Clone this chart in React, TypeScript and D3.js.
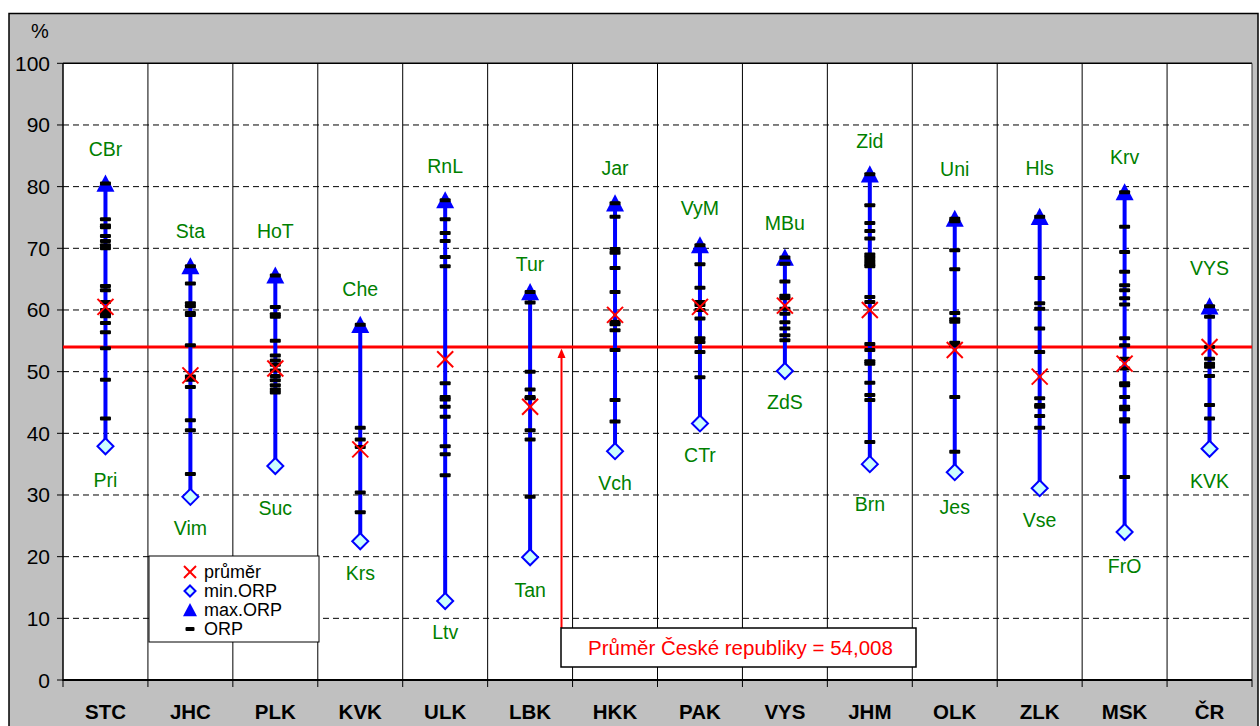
import React from "react";
import * as d3 from "d3";

const categories = ["STC","JHC","PLK","KVK","ULK","LBK","HKK","PAK","VYS","JHM","OLK","ZLK","MSK","ČR"];
const maxVals = [80.5,67.1,65.6,57.6,77.8,62.9,77.3,70.5,68.5,82.0,74.8,75.1,79.1,60.6];
const minVals = [37.9,29.7,34.7,22.5,12.8,19.9,37.1,41.6,50.1,35.0,33.7,31.1,24.0,37.5];
const means = [60.5,49.4,50.5,37.4,52.0,44.3,59.2,60.5,60.7,60.0,53.5,49.2,51.3,54.0];
const maxNames = ["CBr","Sta","HoT","Che","RnL","Tur","Jar","VyM","MBu","Zid","Uni","Hls","Krv","VYS"];
const minNames = ["Pri","Vim","Suc","Krs","Ltv","Tan","Vch","CTr","ZdS","Brn","Jes","Vse","FrO","KVK"];
const orpValues: number[][] = [
  [74.7,73.7,73.4,72.0,71.2,70.5,70.0,63.9,63.2,61.3,60.0,59.4,59.0,57.9,56.4,53.8,48.7,42.4],
  [64.3,61.1,60.6,59.5,59.2,54.3,49.2,48.7,47.5,42.1,40.5,33.4],
  [60.5,59.3,58.9,55.0,52.6,51.8,51.1,50.2,49.3,48.6,47.8,47.1,46.6],
  [40.9,39.0,37.8,30.4,27.2],
  [74.7,72.5,71.2,68.6,67.1,48.1,45.9,45.5,44.3,42.7,37.9,36.6,33.2],
  [61.2,50.0,47.1,45.9,45.7,40.5,39.0,29.7],
  [75.1,69.9,69.3,66.8,62.9,58.1,57.7,56.7,53.5,45.4,41.9],
  [67.4,63.6,61.3,60.8,60.0,58.6,55.4,54.8,53.2,49.1],
  [67.5,64.6,62.3,61.9,60.2,59.4,58.0,57.0,55.9,55.1],
  [77.0,74.1,72.8,71.6,69.0,68.5,68.0,67.5,67.1,62.1,61.3,54.5,53.5,51.7,51.3,48.2,46.2,45.4,38.6],
  [74.4,69.7,66.6,59.5,58.5,58.1,54.7,54.3,45.9,37.0],
  [65.2,61.1,60.2,57.0,53.2,45.7,44.6,44.3,42.8,40.9],
  [73.5,69.4,66.2,64.0,63.2,61.9,60.9,55.4,54.3,52.1,50.5,48.1,47.8,45.9,44.3,43.9,42.3,41.9,32.9],
  [58.9,54.0,52.1,51.3,50.8,49.3,44.6,42.4],
];
const yTicks = [0,10,20,30,40,50,60,70,80,90,100];
const czAverage = 54.008;
const annotationText = "Průměr České republiky = 54,008";
const legendItems = ["průměr","min.ORP","max.ORP","ORP"];

// label placement (pixel offsets from the marker, layout only)
const maxLabelGap = [35,35,44,36,34,28,35,37,35,33,50,49,35,38];
const minLabelGap = [34,31,42,32,31,33,32,32,31,40,35,32,34,32];

const FONT = "'Liberation Sans', Arial, sans-serif";

export default function App() {
  const left = 63, right = 1252, top = 63.3, bottom = 680;
  const x = d3.scaleBand<string>().domain(categories).range([left, right]).padding(0);
  const y = d3.scaleLinear().domain([0, 100]).range([bottom, top]);
  const bw = x.bandwidth();
  const cx = (i: number) => (x(categories[i]) as number) + bw / 2;
  const avgY = y(czAverage);
  const green = "#008000";
  const triPath = (px: number, py: number, s = 9) => `M${px},${py - s} L${px + s},${py + s * 0.9} L${px - s},${py + s * 0.9} Z`;
  const diaPath = (px: number, py: number, s = 8) => `M${px},${py - s} L${px + s},${py} L${px},${py + s} L${px - s},${py} Z`;
  const xMark = (px: number, py: number, s = 8, key?: any) => (
    <g key={key} stroke="#ff0000" strokeWidth={2}>
      <line x1={px - s} y1={py - s} x2={px + s} y2={py + s} />
      <line x1={px - s} y1={py + s} x2={px + s} y2={py - s} />
    </g>
  );
  const arrowX = 561.5;
  const boxTop = 628, boxBottom = 667, boxLeft = 561, boxRight = 916;

  return (
    <svg width={1260} height={726} style={{ position: "absolute", left: 0, top: 0 }} fontFamily={FONT}>
      <rect x={9} y={13.5} width={1249} height={730} fill="#c0c0c0" stroke="#000" strokeWidth={1.5} />
      <rect x={left} y={top} width={right - left} height={bottom - top} fill="#fff" />
      {yTicks.filter(t => t > 0 && t < 100).map(t => (
        <line key={"g" + t} x1={left} x2={right} y1={y(t)} y2={y(t)} stroke="#000" strokeWidth={1} strokeDasharray="6,4" />
      ))}
      {categories.slice(1).map((c) => (
        <line key={"v" + c} x1={x(c) as number} x2={x(c) as number} y1={top} y2={bottom} stroke="#000" strokeWidth={1} />
      ))}
      <line x1={left} x2={right} y1={top} y2={top} stroke="#000" strokeWidth={1.5} />
      <line x1={right} x2={right} y1={top} y2={bottom} stroke="#333" strokeWidth={1} />
      <line x1={left} x2={left} y1={top} y2={bottom + 1} stroke="#000" strokeWidth={1.5} />
      <line x1={left} x2={right} y1={bottom} y2={bottom} stroke="#000" strokeWidth={2} />
      {yTicks.map(t => (
        <g key={"yt" + t}>
          <line x1={left - 6} x2={left} y1={y(t)} y2={y(t)} stroke="#000" strokeWidth={1} />
          <text x={50} y={y(t)} textAnchor="end" dominantBaseline="central" fontSize={21} fill="#000">{t}</text>
        </g>
      ))}
      <text x={40} y={31} textAnchor="middle" dominantBaseline="central" fontSize={20} fill="#000">%</text>
      {categories.map((c) => (
        <line key={"xt" + c} x1={x(c) as number} x2={x(c) as number} y1={bottom} y2={bottom + 7} stroke="#000" strokeWidth={1} />
      ))}
      <line x1={right} x2={right} y1={bottom} y2={bottom + 7} stroke="#000" strokeWidth={1} />
      {categories.map((c, i) => (
        <text key={"xl" + c} x={cx(i)} y={711} textAnchor="middle" dominantBaseline="central" fontSize={20.5} fontWeight="bold" fill="#000">{c}</text>
      ))}
      <line x1={left} x2={right} y1={avgY} y2={avgY} stroke="#ff0000" strokeWidth={3} />
      {categories.map((c, i) => (
        <line key={"r" + c} x1={cx(i)} x2={cx(i)} y1={y(minVals[i])} y2={y(maxVals[i])} stroke="#0000ff" strokeWidth={4} />
      ))}
      {categories.map((c, i) => (
        <path key={"tri" + c} d={triPath(cx(i), y(maxVals[i]))} fill="#0000ff" />
      ))}
      {categories.map((c, i) => (
        <g key={"orp" + c}>
          {[maxVals[i], ...orpValues[i], minVals[i]].map((v, j) => (
            <rect key={j} x={cx(i) - 5.5} y={y(v) - 2} width={11} height={4} rx={1} fill="#000" />
          ))}
        </g>
      ))}
      {categories.map((c, i) => (
        <path key={"dia" + c} d={diaPath(cx(i), y(minVals[i]))} fill="#ccffff" stroke="#0000ff" strokeWidth={2} />
      ))}
      {categories.map((c, i) => xMark(cx(i), y(means[i]), 8, "m" + c))}
      {categories.map((c, i) => (
        <text key={"ln" + c} x={cx(i)} y={y(maxVals[i]) - maxLabelGap[i]} textAnchor="middle" dominantBaseline="central" fontSize={19.5} fill={green}>{maxNames[i]}</text>
      ))}
      {categories.map((c, i) => (
        <text key={"lx" + c} x={cx(i)} y={y(minVals[i]) + minLabelGap[i]} textAnchor="middle" dominantBaseline="central" fontSize={19.5} fill={green}>{minNames[i]}</text>
      ))}
      <line x1={arrowX} x2={arrowX} y1={boxTop} y2={avgY + 8} stroke="#ff0000" strokeWidth={2} />
      <path d={`M${arrowX},${avgY + 1.5} L${arrowX + 4},${avgY + 11} L${arrowX - 4},${avgY + 11} Z`} fill="#ff0000" />
      <rect x={boxLeft} y={boxTop} width={boxRight - boxLeft} height={boxBottom - boxTop} fill="#fff" stroke="#000" strokeWidth={1.5} />
      <text x={(boxLeft + boxRight) / 2 + 2} y={(boxTop + boxBottom) / 2} textAnchor="middle" dominantBaseline="central" fontSize={20.5} fill="#ff0000">{annotationText}</text>
      <rect x={149} y={556} width={170} height={86} fill="#fff" stroke="#000" strokeWidth={1} />
      {legendItems.map((t, k) => {
        const ly = 572 + k * 19;
        return (
          <g key={"leg" + t}>
            {k === 0 && xMark(190, ly, 6)}
            {k === 1 && <path d={diaPath(190, ly, 5.5)} fill="#ccffff" stroke="#0000ff" strokeWidth={2} />}
            {k === 2 && <path d={triPath(190, ly, 7)} fill="#0000ff" />}
            {k === 3 && <rect x={185.5} y={ly - 2} width={9} height={4} rx={1} fill="#000" />}
            <text x={204} y={ly} dominantBaseline="central" fontSize={18} fill="#000">{t}</text>
          </g>
        );
      })}
    </svg>
  );
}
